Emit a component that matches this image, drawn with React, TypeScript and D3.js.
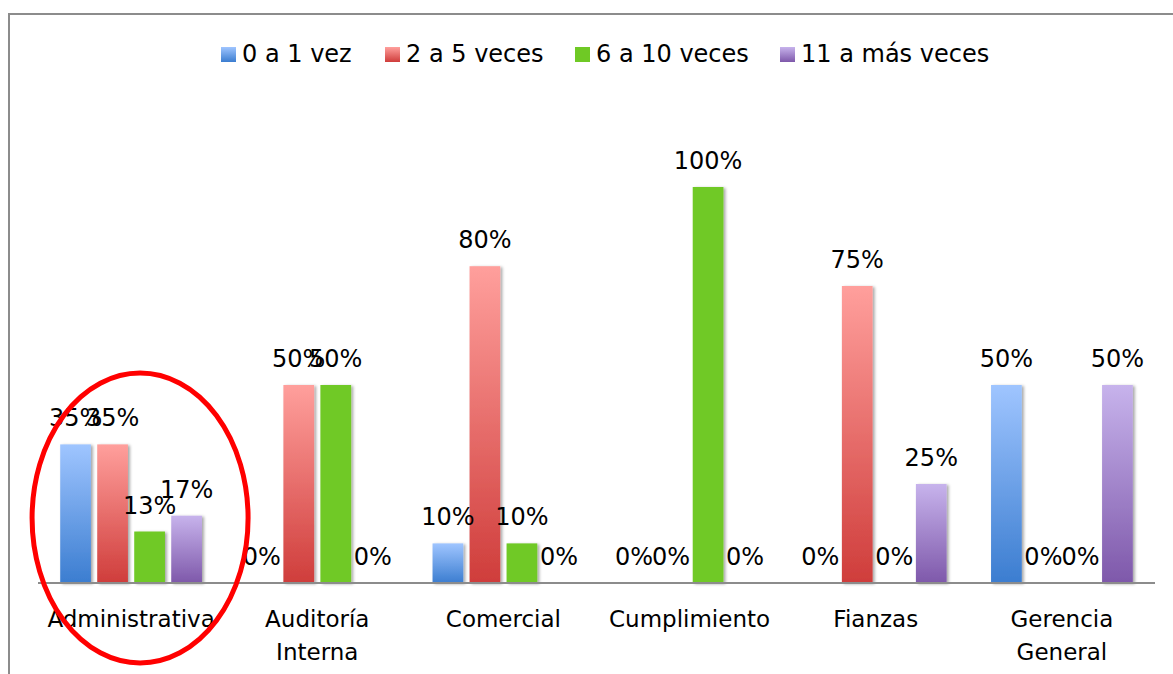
import React, { useEffect, useRef } from "react";
import { select, scaleBand, scaleLinear } from "d3";

const categories = [
  "Administrativa",
  "Auditoría Interna",
  "Comercial",
  "Cumplimiento",
  "Fianzas",
  "Gerencia General",
];

const seriesNames = ["0 a 1 vez", "2 a 5 veces", "6 a 10 veces", "11 a más veces"];

const vez0a1 = [35, 0, 10, 0, 0, 50];
const veces2a5 = [35, 50, 80, 0, 75, 0];
const veces6a10 = [13, 50, 10, 100, 0, 0];
const veces11mas = [17, 0, 0, 0, 25, 50];

// top / bottom colours of each gradient
const colors = [
  ["#9fc5ff", "#3b7dd0"],
  ["#ff9f9c", "#cf3d3b"],
  ["#6fc925", "#6fc925"],
  ["#c7b3ec", "#7e58aa"],
];

const App = () => {
  const ref = useRef<SVGSVGElement>(null);

  useEffect(() => {
    const svg = select(ref.current);
    svg.selectAll("*").remove();
    const width = 1173;
    const height = 674;
    const font = "'DejaVu Sans', Verdana, sans-serif";
    const values = [vez0a1, veces2a5, veces6a10, veces11mas];

    const defs = svg.append("defs");
    colors.forEach((c, i) => {
      const g = defs
        .append("linearGradient")
        .attr("id", "grad" + i)
        .attr("x1", 0)
        .attr("y1", 0)
        .attr("x2", 0)
        .attr("y2", 1);
      g.append("stop").attr("offset", "0%").attr("stop-color", c[0]);
      g.append("stop").attr("offset", "100%").attr("stop-color", c[1]);
    });
    const f = defs
      .append("filter")
      .attr("id", "shadow")
      .attr("x", "-20%")
      .attr("y", "-10%")
      .attr("width", "150%")
      .attr("height", "130%");
    f.append("feDropShadow")
      .attr("dx", 2)
      .attr("dy", 1)
      .attr("stdDeviation", 1.5)
      .attr("flood-color", "#000")
      .attr("flood-opacity", 0.35);

    svg.append("rect").attr("width", width).attr("height", height).attr("fill", "#fff");
    // chart border
    svg
      .append("rect")
      .attr("x", 9)
      .attr("y", 14)
      .attr("width", width + 20)
      .attr("height", height + 20)
      .attr("fill", "none")
      .attr("stroke", "#8c8c8c")
      .attr("stroke-width", 2);

    const x0 = scaleBand().domain(categories).range([38, 1155]);
    const x1 = scaleBand()
      .domain(seriesNames)
      .range([0, x0.bandwidth()])
      .paddingInner(0.17)
      .paddingOuter(0.6);
    const y = scaleLinear().domain([0, 100]).range([583, 187]);

    // legend
    const legendX = [221, 385, 575, 780];
    const legend = svg.append("g");
    seriesNames.forEach((name, i) => {
      legend
        .append("rect")
        .attr("x", legendX[i])
        .attr("y", 47)
        .attr("width", 15)
        .attr("height", 15)
        .attr("fill", `url(#grad${i})`);
      legend
        .append("text")
        .attr("x", legendX[i] + 21)
        .attr("y", 62)
        .attr("font-family", font)
        .attr("font-size", 24)
        .attr("fill", "#000")
        .text(name);
    });

    const plot = svg.append("g");
    values.forEach((vals, s) => {
      const name = seriesNames[s];
      const rows = vals.map((v, i) => ({ v, cat: categories[i] })).filter((d) => d.v > 0);
      plot
        .selectAll(".bar" + s)
        .data(rows)
        .enter()
        .append("rect")
        .attr("x", (d) => x0(d.cat)! + x1(name)!)
        .attr("y", (d) => y(d.v))
        .attr("width", x1.bandwidth())
        .attr("height", (d) => y(0) - y(d.v))
        .attr("fill", `url(#grad${s})`)
        .attr("filter", "url(#shadow)");
    });

    // axis line
    plot
      .append("line")
      .attr("x1", x0.range()[0])
      .attr("x2", x0.range()[1])
      .attr("y1", y(0))
      .attr("y2", y(0))
      .attr("stroke", "#8c8c8c")
      .attr("stroke-width", 2);

    values.forEach((vals, s) => {
      const name = seriesNames[s];
      plot
        .selectAll(".lab" + s)
        .data(vals)
        .enter()
        .append("text")
        .attr("x", (v, i) => x0(categories[i])! + x1(name)! + x1.bandwidth() / 2)
        .attr("y", (v) => y(v) - 18)
        .attr("text-anchor", "middle")
        .attr("font-family", font)
        .attr("font-size", 24)
        .attr("fill", "#000")
        .text((v) => v + "%");
    });

    // category labels
    categories.forEach((c) => {
      const lines = c.includes(" ") ? c.split(" ") : [c];
      const t = plot
        .append("text")
        .attr("x", x0(c)! + x0.bandwidth() / 2)
        .attr("y", 627)
        .attr("text-anchor", "middle")
        .attr("font-family", font)
        .attr("font-size", 23)
        .attr("fill", "#000");
      lines.forEach((l, k) => {
        t.append("tspan")
          .attr("x", x0(c)! + x0.bandwidth() / 2)
          .attr("dy", k === 0 ? 0 : 33)
          .text(l);
      });
    });

    // red highlight around Administrativa
    svg
      .append("ellipse")
      .attr("cx", x0("Administrativa")! + x0.bandwidth() / 2 + 9)
      .attr("cy", 518)
      .attr("rx", 108)
      .attr("ry", 145)
      .attr("fill", "none")
      .attr("stroke", "#f00")
      .attr("stroke-width", 5);
  }, []);

  return (
    <svg
      ref={ref}
      width={1173}
      height={674}
      style={{ position: "absolute", left: 0, top: 0 }}
    ></svg>
  );
};

export default App;
